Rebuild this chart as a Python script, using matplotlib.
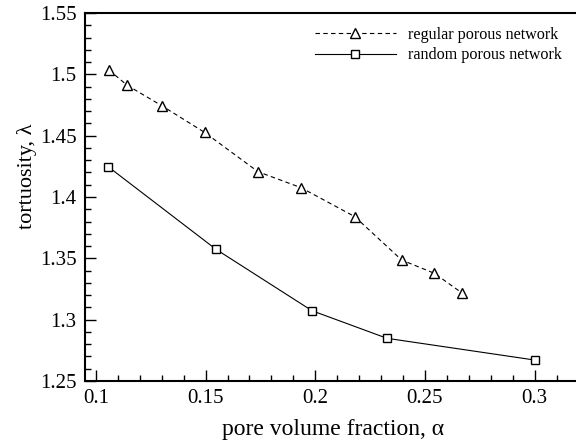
import matplotlib
matplotlib.use("Agg")
import matplotlib.pyplot as plt
from matplotlib.ticker import MultipleLocator

plt.rcParams["font.family"] = ["Liberation Serif", "DejaVu Serif"]

# tortuosity vs pore volume fraction
regular_alpha = [0.1059, 0.1143, 0.1302, 0.1495, 0.1739, 0.1935, 0.2180, 0.2394, 0.2543, 0.2667]
regular_tort = [1.5035, 1.4910, 1.4742, 1.4527, 1.4206, 1.4076, 1.3840, 1.3486, 1.3378, 1.3220]
random_alpha = [0.1057, 0.1547, 0.1985, 0.2327, 0.3000]
random_tort = [1.4245, 1.3574, 1.3073, 1.2848, 1.2671]

fig = plt.figure(figsize=(5.76, 4.43), dpi=100)
ax = fig.add_axes([85 / 576, 62 / 443, 1 - 85 / 576 + 0.01, 368 / 443])

ax.plot(regular_alpha, regular_tort, color="black", lw=0.8, ls=(0, (4, 3)),
        marker="^", ms=6.5, mfc="white", mec="black", mew=1.0,
        label="regular porous network")
ax.plot(random_alpha, random_tort, color="black", lw=0.8, ls="-",
        marker="s", ms=6, mfc="white", mec="black", mew=1.0,
        label="random porous network")

ax.set_xlim(0.095, 0.3215)
ax.set_ylim(1.25, 1.55)
ax.xaxis.set_minor_locator(MultipleLocator(0.01))
ax.yaxis.set_minor_locator(MultipleLocator(0.01))
ax.set_xticks([0.1, 0.15, 0.2, 0.25, 0.3])
ax.set_xticklabels(["0.1", "0.15", "0.2", "0.25", "0.3"])
ax.set_yticks([1.25, 1.3, 1.35, 1.4, 1.45, 1.5, 1.55])
ax.set_yticklabels(["1.25", "1.3", "1.35", "1.4", "1.45", "1.5", "1.55"])

ax.tick_params(which="both", direction="in", top=False, right=False, labelsize=15, width=1.0)
ax.tick_params(which="major", length=8, pad=6)
ax.tick_params(which="minor", length=4.5)
for side in ("left", "bottom", "top"):
    ax.spines[side].set_linewidth(1.5)
ax.spines["right"].set_visible(False)

ax.set_xlabel("pore volume fraction, α", fontsize=17, labelpad=8)
ax.set_ylabel("tortuosity, λ", fontsize=16)
ax.yaxis.set_label_coords(-0.097, 0.557)

ax.legend(loc="upper left", bbox_to_anchor=(0.463, 0.962), frameon=False, fontsize=11.6,
          handlelength=5.0, handletextpad=0.75, labelspacing=0.28,
          borderpad=0, borderaxespad=0)

fig.savefig("out.png", dpi=100)
